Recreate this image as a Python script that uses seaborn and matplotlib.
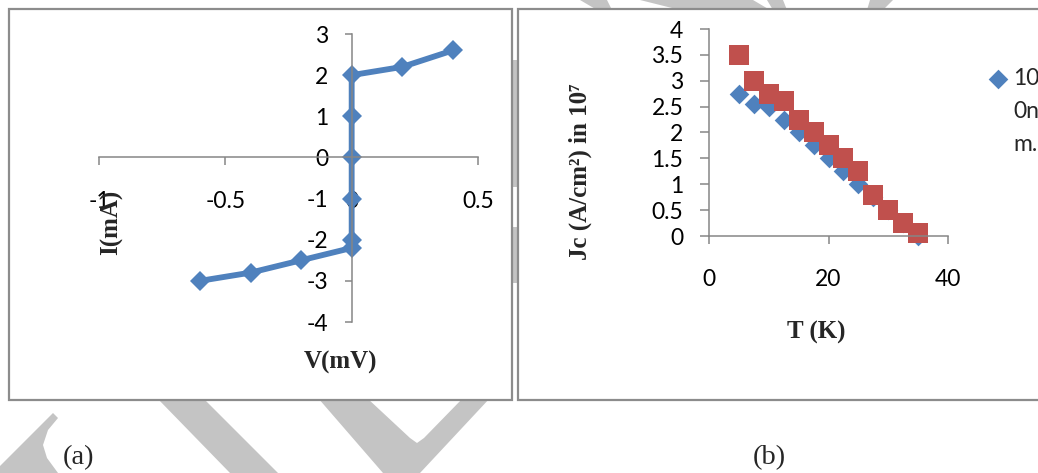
import matplotlib
matplotlib.use("Agg")
import matplotlib.pyplot as plt
import seaborn as sns
from matplotlib.patches import Rectangle, Polygon
from matplotlib.transforms import Affine2D
from matplotlib.ticker import FuncFormatter

# panel (a): I-V curve
volts = [-0.6, -0.4, -0.2, 0.0, 0.0, 0.0, 0.0, 0.0, 0.0, 0.2, 0.4]
amps = [-3.0, -2.8, -2.5, -2.2, -2.0, -1.0, 0.0, 1.0, 2.0, 2.2, 2.6]
a_xticks = [-1, -0.5, 0, 0.5]
a_yticks = [-4, -3, -2, -1, 0, 1, 2, 3]

# panel (b): Jc vs T
temps = [5, 7.5, 10, 12.5, 15, 17.5, 20, 22.5, 25, 27.5, 30, 32.5, 35]
jc_blue = [2.75, 2.55, 2.5, 2.25, 2.0, 1.75, 1.5, 1.25, 1.0, 0.75, 0.5, 0.25, 0.0]
jc_red = [3.5, 3.0, 2.75, 2.6, 2.25, 2.0, 1.75, 1.5, 1.25, 0.8, 0.5, 0.25, 0.05]
b_xticks = [0, 20, 40]
b_yticks = [0, 0.5, 1, 1.5, 2, 2.5, 3, 3.5, 4]
blue_label = "10\n0n\nm."

BLUE = "#4F81BD"
RED = "#C0504D"
GREY = "#868686"
SERIF = ["Liberation Serif", "DejaVu Serif"]

sns.set_style("ticks")
plt.rcParams["font.family"] = ["Lato", "DejaVu Sans"]
plt.rcParams["axes.unicode_minus"] = False

W, H = 1038, 473
fig = plt.figure(figsize=(W / 100, H / 100), dpi=100)
fig.patch.set_facecolor("white")
# pixel coordinates, y pointing down
px = Affine2D().scale(1 / W, -1 / H).translate(0, 1) + fig.transFigure


def box(x0, y0, x1, y1):
    return [x0 / W, 1 - y1 / H, (x1 - x0) / W, (y1 - y0) / H]


# light grey watermark showing around the two frames
watermark = [
    [(53, 413), (58, 418), (48, 430), (43, 445), (47, 458), (58, 473), (0, 473), (0, 466)],
    [(157, 398), (203, 398), (278, 473), (230, 473)],
    [(318, 398), (367, 398), (410, 438), (417, 443), (424, 438), (463, 398), (490, 398), (420, 473), (383, 473)],
    [(580, 0), (607, 0), (612, 10), (597, 10)],
    [(640, 0), (753, 0), (770, 10), (680, 10)],
    [(767, 0), (783, 0), (787, 10), (773, 10)],
    [(870, 0), (893, 0), (883, 10), (867, 10)],
    [(513, 60), (517, 60), (517, 187), (513, 187)],
    [(513, 227), (517, 227), (517, 283), (513, 283)],
]
for pts in watermark:
    fig.add_artist(Polygon(pts, closed=True, transform=px, fc="#c4c4c4", ec="none", zorder=-3))

# white frames of the two charts
for x0, y0, x1, y1 in [(9, 9, 512, 400), (518, 9, 1050, 400)]:
    fig.add_artist(Rectangle((x0, y0), x1 - x0, y1 - y0, transform=px,
                             fc="white", ec="#8c8c8c", lw=1.6, zorder=-2))

fmt = FuncFormatter(lambda v, p: f"{v:g}")

# ---- (a) ----
ax1 = fig.add_axes(box(99, 34, 478, 322))
ax1.patch.set_alpha(0)
sns.lineplot(x=volts, y=amps, sort=False, estimator=None, color=BLUE, lw=4.2,
             marker="D", markersize=10.5, markeredgewidth=0, ax=ax1)
ax1.set_xlim(-1, 0.5)
ax1.set_ylim(-4, 3)
ax1.set_xticks(a_xticks)
ax1.set_yticks(a_yticks)
ax1.xaxis.set_major_formatter(fmt)
ax1.yaxis.set_major_formatter(fmt)
ax1.spines["left"].set_position(("data", 0))
ax1.spines["bottom"].set_position(("data", 0))
ax1.spines[["top", "right"]].set_visible(False)
ax1.tick_params(axis="x", length=6, pad=18)
ax1.tick_params(axis="y", length=5, pad=12)
ax1.set_xlabel("V(mV)", family=SERIF, weight="bold", fontsize=18, va="center")
ax1.set_ylabel("I(mA)", family=SERIF, weight="bold", fontsize=18, va="center")
ax1.xaxis.set_label_coords(0.636, -0.142)
ax1.yaxis.set_label_coords(0.034, 0.347)

# ---- (b) ----
ax2 = fig.add_axes(box(709, 29, 948, 236))
ax2.patch.set_alpha(0)
sns.scatterplot(x=temps, y=jc_blue, marker="D", s=100, color=BLUE, linewidth=0,
                label=blue_label, ax=ax2, clip_on=False)
sns.scatterplot(x=temps, y=jc_red, marker="s", s=207, color=RED, linewidth=0,
                ax=ax2, clip_on=False)
ax2.set_xlim(0, 40)
ax2.set_ylim(0, 4)
ax2.set_xticks(b_xticks)
ax2.set_yticks(b_yticks)
ax2.xaxis.set_major_formatter(fmt)
ax2.yaxis.set_major_formatter(fmt)
ax2.spines[["top", "right"]].set_visible(False)
ax2.tick_params(axis="x", length=6, pad=18)
ax2.tick_params(axis="y", length=6.5, pad=12)
ax2.set_xlabel("T (K)", family=SERIF, weight="bold", fontsize=18, va="center")
ax2.set_ylabel("Jc (A/cm²) in 10⁷", family=SERIF, weight="bold", fontsize=18, va="center")
ax2.xaxis.set_label_coords(0.448, -0.464)
ax2.yaxis.set_label_coords(-0.54, 0.309)

leg = ax2.legend(loc="upper left", bbox_to_anchor=(989, 68), bbox_transform=px,
                 frameon=False, borderpad=0, borderaxespad=0, fontsize=16.5,
                 handlelength=0.8, handleheight=1.2, handletextpad=0.26)
for t in leg.get_texts():
    t.set_linespacing(1.72)
for col in leg._legend_handle_box.get_children():
    for row in col.get_children():
        row.align = "top"

for ax in (ax1, ax2):
    for s in ax.spines.values():
        s.set_color(GREY)
        s.set_linewidth(1.1)
    ax.tick_params(colors=GREY, labelcolor="black", labelsize=16.5, width=1.1)

fig.text(78 / W, 1 - 458 / H, "(a)", family=SERIF, fontsize=20.5, ha="center", va="center")
fig.text(769 / W, 1 - 458 / H, "(b)", family=SERIF, fontsize=20.5, ha="center", va="center")

fig.savefig("out.png", dpi=100)
